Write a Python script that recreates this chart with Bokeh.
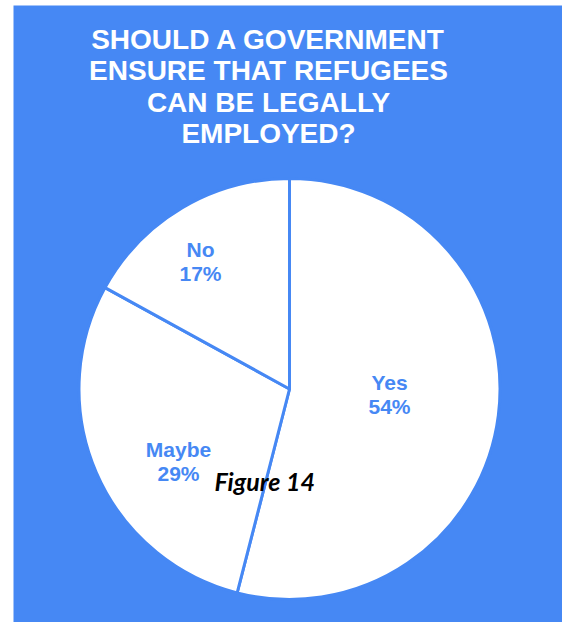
import math
from bokeh.plotting import figure
from bokeh.models import ColumnDataSource
from bokeh.core.properties import value
from bokeh.embed import file_html
from bokeh.resources import INLINE

# ---- data ----
categories = ["Yes", "Maybe", "No"]
shares = [54, 29, 17]
title_lines = ["SHOULD A GOVERNMENT", "ENSURE THAT REFUGEES", "CAN BE LEGALLY", "EMPLOYED?"]
caption = "Figure 14"

# ---- layout / style ----
W, H = 562, 622
BLUE = "#4688F4"
cx, cy_px, R = 289, 388.5, 210.5
SHIFT = 10  # text baseline correction
title_x = 268
title_baselines = [48.5, 80, 111.5, 143]
label_pos = [(389, 392), (178, 459), (200, 259)]  # name-line baseline (pixel coords)
label_gap = 24

def Y(py):
    return H - py

def YT(py):
    return H - (py - SHIFT)

p = figure(width=W, height=H, x_range=(0, W), y_range=(0, H),
           output_backend="svg", toolbar_location=None, min_border=0)
p.axis.visible = False
p.grid.visible = False
p.outline_line_color = None
p.background_fill_color = "white"
p.border_fill_color = "white"

# blue panel
p.quad(left=13, right=W, bottom=0, top=Y(5), fill_color=BLUE, line_color=None)

# pie
total = sum(shares)
starts, ends = [], []
cum = 0
for s in shares:
    a0 = 90 - 360 * (cum + s) / total
    a1 = 90 - 360 * cum / total
    starts.append(math.radians(a0))
    ends.append(math.radians(a1))
    cum += s
src = ColumnDataSource(dict(cat=categories, start=starts, end=ends))
p.wedge(x=cx, y=Y(cy_px), radius=R, start_angle="start", end_angle="end",
        source=src, fill_color="white", line_color=BLUE, line_width=3)

# title
for line, b in zip(title_lines, title_baselines):
    p.text(x=[title_x], y=[YT(b)], text=[line], text_color="white",
           text_font=value("Liberation Sans"), text_font_style="bold",
           text_font_size="28px", text_align="center", text_baseline="alphabetic")

# slice labels
lsrc = ColumnDataSource(dict(
    x=[lp[0] for lp in label_pos],
    y1=[YT(lp[1]) for lp in label_pos],
    y2=[YT(lp[1] + label_gap) for lp in label_pos],
    name=categories,
    pct=[f"{s}%" for s in shares],
))
for col, ycol in (("name", "y1"), ("pct", "y2")):
    p.text(x="x", y=ycol, text=col, source=lsrc, text_color=BLUE,
           text_font=value("Liberation Sans"), text_font_style="bold",
           text_font_size="21px", text_align="center", text_baseline="alphabetic")

# caption
p.text(x=[214], y=[YT(490)], text=[caption], text_color="black",
       text_font=value("Lato"), text_font_style="bold italic",
       text_font_size="25px", text_align="left", text_baseline="alphabetic")

open("out.html", "w").write(file_html(p, INLINE))
